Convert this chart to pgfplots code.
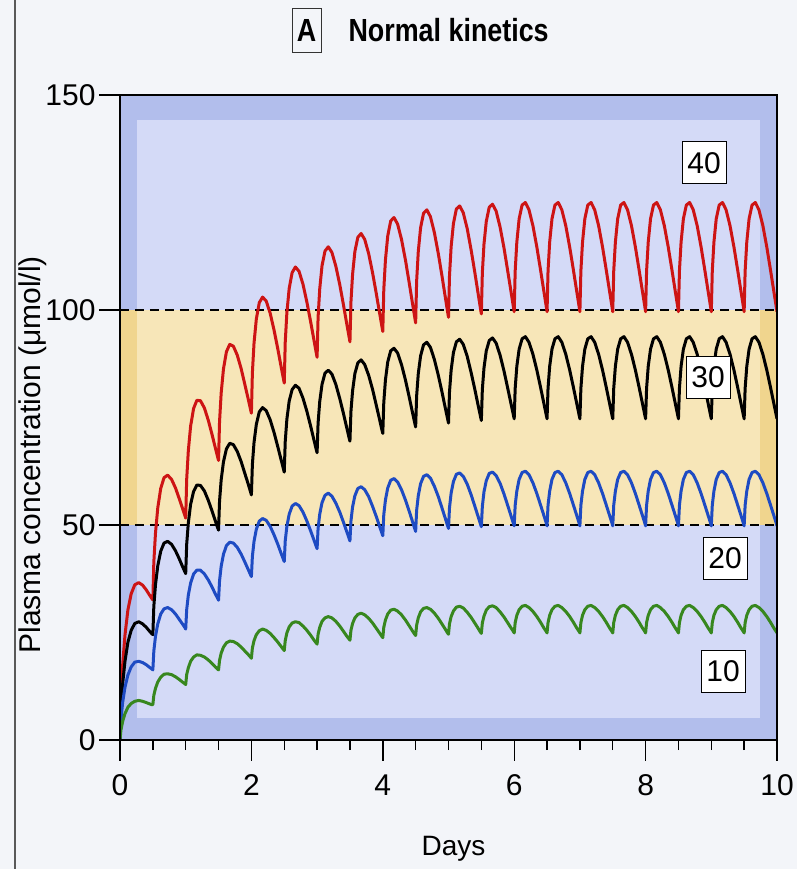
\documentclass[border=0pt]{standalone}
\usepackage{fontspec}
\setmainfont{Liberation Sans}
\newfontfamily\condfont{Liberation Sans}[FakeStretch=0.84]
\usepackage{pgfplots}
\pgfplotsset{compat=1.18}
\usepackage{pgfplotstable}
\definecolor{bgpage}{RGB}{243,245,249}
\definecolor{blueout}{RGB}{178,190,236}
\definecolor{bluein}{RGB}{212,218,247}
\definecolor{yelout}{RGB}{240,213,142}
\definecolor{yelin}{RGB}{247,230,184}
\definecolor{cred}{RGB}{205,20,20}
\definecolor{cblue}{RGB}{30,75,195}
\definecolor{cgreen}{RGB}{55,135,30}
\newcommand\fs[1]{\fontsize{#1}{#1}\selectfont}

% columns: t = days, r = dose 40, k = dose 30, b = dose 20, g = dose 10
\pgfplotstableread{
t r k b g
0.000 0 0 0 0
0.015 9.6 7.2 4.8 2.4
0.040 17.3 13.0 8.7 4.3
0.075 24.3 18.2 12.2 6.1
0.120 30.2 22.7 15.1 7.6
0.170 34.0 25.5 17.0 8.5
0.225 36.1 27.1 18.1 9.0
0.285 36.6 27.5 18.3 9.2
0.345 36.0 27.0 18.0 9.0
0.400 34.9 26.2 17.5 8.7
0.450 33.7 25.3 16.9 8.4
0.485 32.9 24.7 16.5 8.2
0.500 32.6 24.5 16.3 8.2
0.515 41.4 31.1 20.7 10.4
0.540 48.1 36.1 24.1 12.0
0.575 54.0 40.5 27.0 13.5
0.620 58.5 43.9 29.3 14.6
0.670 61.0 45.8 30.5 15.3
0.725 61.6 46.2 30.8 15.4
0.785 60.6 45.5 30.3 15.2
0.845 58.6 44.0 29.3 14.7
0.900 56.2 42.2 28.1 14.1
0.950 53.9 40.4 27.0 13.5
0.985 52.3 39.2 26.2 13.1
1.000 51.6 38.7 25.8 12.9
1.015 60.6 45.5 30.3 15.2
1.040 67.3 50.5 33.7 16.8
1.075 73.0 54.8 36.5 18.3
1.120 77.1 57.8 38.6 19.3
1.170 79.0 59.3 39.5 19.8
1.225 78.9 59.2 39.5 19.7
1.285 77.2 57.9 38.6 19.3
1.345 74.3 55.7 37.2 18.6
1.400 71.1 53.3 35.6 17.8
1.450 68.0 51.0 34.0 17.0
1.485 65.9 49.4 33.0 16.5
1.500 65.0 48.8 32.5 16.3
1.515 74.0 55.5 37.0 18.5
1.540 80.7 60.5 40.4 20.2
1.575 86.3 64.7 43.2 21.6
1.620 90.3 67.7 45.2 22.6
1.670 92.0 69.0 46.0 23.0
1.725 91.6 68.7 45.8 22.9
1.785 89.5 67.1 44.8 22.4
1.845 86.3 64.7 43.2 21.6
1.900 82.7 62.0 41.4 20.7
1.950 79.4 59.6 39.7 19.9
1.985 77.0 57.8 38.5 19.3
2.000 76.0 57.0 38.0 19.0
2.015 85.4 64.1 42.7 21.4
2.040 92.3 69.2 46.2 23.1
2.075 97.9 73.4 49.0 24.5
2.120 101.7 76.3 50.9 25.4
2.170 103.0 77.3 51.5 25.8
2.225 102.1 76.6 51.1 25.5
2.285 99.3 74.5 49.7 24.8
2.345 95.3 71.5 47.7 23.8
2.400 91.1 68.3 45.6 22.8
2.450 87.0 65.3 43.5 21.8
2.485 84.2 63.2 42.1 21.1
2.500 83.0 62.3 41.5 20.8
2.515 92.5 69.4 46.3 23.1
2.540 99.4 74.6 49.7 24.9
2.575 105.0 78.8 52.5 26.3
2.620 108.7 81.5 54.4 27.2
2.670 110.0 82.5 55.0 27.5
2.725 109.0 81.8 54.5 27.3
2.785 106.0 79.5 53.0 26.5
2.845 101.8 76.4 50.9 25.5
2.900 97.4 73.1 48.7 24.4
2.950 93.2 69.9 46.6 23.3
2.985 90.2 67.7 45.1 22.6
3.000 89.0 66.8 44.5 22.3
3.015 98.3 73.7 49.2 24.6
3.040 104.9 78.7 52.5 26.2
3.075 110.3 82.7 55.2 27.6
3.120 113.7 85.3 56.9 28.4
3.170 114.7 86.0 57.4 28.7
3.225 113.4 85.1 56.7 28.4
3.285 110.2 82.7 55.1 27.6
3.345 105.9 79.4 53.0 26.5
3.400 101.3 76.0 50.7 25.3
3.450 96.9 72.7 48.5 24.2
3.485 93.9 70.4 47.0 23.5
3.500 92.6 69.5 46.3 23.2
3.515 101.8 76.4 50.9 25.5
3.540 108.3 81.2 54.2 27.1
3.575 113.6 85.2 56.8 28.4
3.620 116.9 87.7 58.5 29.2
3.670 117.8 88.4 58.9 29.5
3.725 116.4 87.3 58.2 29.1
3.785 113.1 84.8 56.6 28.3
3.845 108.6 81.5 54.3 27.2
3.900 103.9 77.9 52.0 26.0
3.950 99.4 74.6 49.7 24.9
3.985 96.3 72.2 48.2 24.1
4.000 95.0 71.3 47.5 23.8
4.015 104.7 78.5 52.4 26.2
4.040 111.6 83.7 55.8 27.9
4.075 117.2 87.9 58.6 29.3
4.120 120.7 90.5 60.4 30.2
4.170 121.5 91.1 60.8 30.4
4.225 120.0 90.0 60.0 30.0
4.285 116.4 87.3 58.2 29.1
4.345 111.6 83.7 55.8 27.9
4.400 106.5 79.9 53.3 26.6
4.450 101.7 76.3 50.9 25.4
4.485 98.4 73.8 49.2 24.6
4.500 97.0 72.8 48.5 24.3
4.515 106.7 80.0 53.4 26.7
4.540 113.6 85.2 56.8 28.4
4.575 119.1 89.3 59.6 29.8
4.620 122.5 91.9 61.3 30.6
4.670 123.3 92.5 61.7 30.8
4.725 121.7 91.3 60.9 30.4
4.785 118.0 88.5 59.0 29.5
4.845 113.1 84.8 56.6 28.3
4.900 108.0 81.0 54.0 27.0
4.950 103.1 77.3 51.6 25.8
4.985 99.7 74.8 49.9 24.9
5.000 98.3 73.7 49.2 24.6
5.015 107.9 80.9 54.0 27.0
5.040 114.7 86.0 57.4 28.7
5.075 120.1 90.1 60.1 30.0
5.120 123.5 92.6 61.8 30.9
5.170 124.2 93.2 62.1 31.1
5.225 122.6 92.0 61.3 30.7
5.285 118.9 89.2 59.5 29.7
5.345 113.9 85.4 57.0 28.5
5.400 108.8 81.6 54.4 27.2
5.450 103.9 77.9 52.0 26.0
5.485 100.5 75.4 50.3 25.1
5.500 99.1 74.3 49.6 24.8
5.515 108.6 81.5 54.3 27.2
5.540 115.3 86.5 57.7 28.8
5.575 120.6 90.5 60.3 30.2
5.620 123.9 92.9 62.0 31.0
5.670 124.6 93.5 62.3 31.2
5.725 123.0 92.3 61.5 30.8
5.785 119.3 89.5 59.7 29.8
5.845 114.4 85.8 57.2 28.6
5.900 109.2 81.9 54.6 27.3
5.950 104.4 78.3 52.2 26.1
5.985 101.0 75.8 50.5 25.3
6.000 99.6 74.7 49.8 24.9
6.015 109.1 81.8 54.6 27.3
6.040 115.8 86.9 57.9 29.0
6.075 121.2 90.9 60.6 30.3
6.120 124.4 93.3 62.2 31.1
6.170 125.0 93.8 62.5 31.3
6.225 123.3 92.5 61.7 30.8
6.285 119.6 89.7 59.8 29.9
6.345 114.6 86.0 57.3 28.7
6.400 109.4 82.1 54.7 27.4
6.450 104.5 78.4 52.3 26.1
6.485 101.1 75.8 50.6 25.3
6.500 99.6 74.7 49.8 24.9
6.515 109.1 81.8 54.6 27.3
6.540 115.8 86.9 57.9 29.0
6.575 121.2 90.9 60.6 30.3
6.620 124.4 93.3 62.2 31.1
6.670 125.0 93.8 62.5 31.3
6.725 123.3 92.5 61.7 30.8
6.785 119.6 89.7 59.8 29.9
6.845 114.6 86.0 57.3 28.7
6.900 109.4 82.1 54.7 27.4
6.950 104.5 78.4 52.3 26.1
6.985 101.1 75.8 50.6 25.3
7.000 99.6 74.7 49.8 24.9
7.015 109.1 81.8 54.6 27.3
7.040 115.8 86.9 57.9 29.0
7.075 121.2 90.9 60.6 30.3
7.120 124.4 93.3 62.2 31.1
7.170 125.0 93.8 62.5 31.3
7.225 123.3 92.5 61.7 30.8
7.285 119.6 89.7 59.8 29.9
7.345 114.6 86.0 57.3 28.7
7.400 109.4 82.1 54.7 27.4
7.450 104.5 78.4 52.3 26.1
7.485 101.1 75.8 50.6 25.3
7.500 99.6 74.7 49.8 24.9
7.515 109.1 81.8 54.6 27.3
7.540 115.8 86.9 57.9 29.0
7.575 121.2 90.9 60.6 30.3
7.620 124.4 93.3 62.2 31.1
7.670 125.0 93.8 62.5 31.3
7.725 123.3 92.5 61.7 30.8
7.785 119.6 89.7 59.8 29.9
7.845 114.6 86.0 57.3 28.7
7.900 109.4 82.1 54.7 27.4
7.950 104.5 78.4 52.3 26.1
7.985 101.1 75.8 50.6 25.3
8.000 99.6 74.7 49.8 24.9
8.015 109.1 81.8 54.6 27.3
8.040 115.8 86.9 57.9 29.0
8.075 121.2 90.9 60.6 30.3
8.120 124.4 93.3 62.2 31.1
8.170 125.0 93.8 62.5 31.3
8.225 123.3 92.5 61.7 30.8
8.285 119.6 89.7 59.8 29.9
8.345 114.6 86.0 57.3 28.7
8.400 109.4 82.1 54.7 27.4
8.450 104.5 78.4 52.3 26.1
8.485 101.1 75.8 50.6 25.3
8.500 99.6 74.7 49.8 24.9
8.515 109.1 81.8 54.6 27.3
8.540 115.8 86.9 57.9 29.0
8.575 121.2 90.9 60.6 30.3
8.620 124.4 93.3 62.2 31.1
8.670 125.0 93.8 62.5 31.3
8.725 123.3 92.5 61.7 30.8
8.785 119.6 89.7 59.8 29.9
8.845 114.6 86.0 57.3 28.7
8.900 109.4 82.1 54.7 27.4
8.950 104.5 78.4 52.3 26.1
8.985 101.1 75.8 50.6 25.3
9.000 99.6 74.7 49.8 24.9
9.015 109.1 81.8 54.6 27.3
9.040 115.8 86.9 57.9 29.0
9.075 121.2 90.9 60.6 30.3
9.120 124.4 93.3 62.2 31.1
9.170 125.0 93.8 62.5 31.3
9.225 123.3 92.5 61.7 30.8
9.285 119.6 89.7 59.8 29.9
9.345 114.6 86.0 57.3 28.7
9.400 109.4 82.1 54.7 27.4
9.450 104.5 78.4 52.3 26.1
9.485 101.1 75.8 50.6 25.3
9.500 99.6 74.7 49.8 24.9
9.515 109.1 81.8 54.6 27.3
9.540 115.8 86.9 57.9 29.0
9.575 121.2 90.9 60.6 30.3
9.620 124.4 93.3 62.2 31.1
9.670 125.0 93.8 62.5 31.3
9.725 123.3 92.5 61.7 30.8
9.785 119.6 89.7 59.8 29.9
9.845 114.6 86.0 57.3 28.7
9.900 109.4 82.1 54.7 27.4
9.950 104.5 78.4 52.3 26.1
9.985 101.1 75.8 50.6 25.3
10.000 99.6 74.7 49.8 24.9
}\data

\begin{document}
\begin{tikzpicture}
\path[use as bounding box, fill=bgpage] (-120pt,-129pt) rectangle (677pt,740pt);
\draw[line width=1.2pt, black!65] (-105pt,-129pt) -- (-105pt,740pt);
\begin{axis}[
  at={(0pt,0pt)}, anchor=south west,
  scale only axis, width=657pt, height=645pt,
  xmin=0, xmax=10, ymin=0, ymax=150,
  axis on top,
  xtick={0,2,4,6,8,10}, minor x tick num=3,
  ytick={0,50,100,150},
  tick pos=left, tick align=outside,
  major tick length=21pt, minor tick length=10pt,
  every tick/.style={black, line width=1.4pt},
  axis line style={line width=1.8pt},
  /pgf/number format/assume math mode=true,
  xticklabel style={font=\fs{30}, yshift=-10pt},
  yticklabel style={font=\fs{30}},
]
\fill[blueout] (axis cs:0,0) rectangle (axis cs:10,150);
\fill[bluein] (axis cs:0.26,5.2) rectangle (axis cs:9.74,144.2);
\fill[yelout] (axis cs:0,50) rectangle (axis cs:10,100);
\fill[yelin] (axis cs:0.26,50) rectangle (axis cs:9.74,100);
\draw[line width=1.6pt, dash pattern=on 9pt off 6pt] (axis cs:0,50) -- (axis cs:10,50);
\draw[line width=1.6pt, dash pattern=on 9pt off 6pt] (axis cs:0,100) -- (axis cs:10,100);
\addplot[cred, line width=3pt, line join=round, no markers] table[x=t, y=r] {\data};
\addplot[black, line width=3pt, line join=round, no markers] table[x=t, y=k] {\data};
\addplot[cblue, line width=3pt, line join=round, no markers] table[x=t, y=b] {\data};
\addplot[cgreen, line width=3pt, line join=round, no markers] table[x=t, y=g] {\data};
\tikzset{lbl/.style={draw=black, fill=white, line width=1pt, minimum width=44pt, minimum height=42pt, inner sep=0pt, font=\fs{30}}}
\node[lbl] at (axis cs:8.89,134.2) {40};
\node[lbl] at (axis cs:8.95,84.4) {30};
\node[lbl] at (axis cs:9.21,42.3) {20};
\node[lbl] at (axis cs:9.18,16) {10};
\end{axis}
\node[anchor=base west, font=\condfont\bfseries\fs{32}] at (225pt,698pt) {Normal kinetics};
\node[draw=black!80, line width=1pt, minimum width=29pt, minimum height=44pt, inner sep=0pt, font=\condfont\bfseries\fs{32}] at (186.5pt,709pt) {A};
\node[rotate=90, anchor=base west, font=\fs{30}] at (-79pt,83pt) {Plasma concentration (μmol/l)};
\node[anchor=base west, font=\fs{28}] at (298pt,-115pt) {Days};
\end{tikzpicture}
\end{document}
